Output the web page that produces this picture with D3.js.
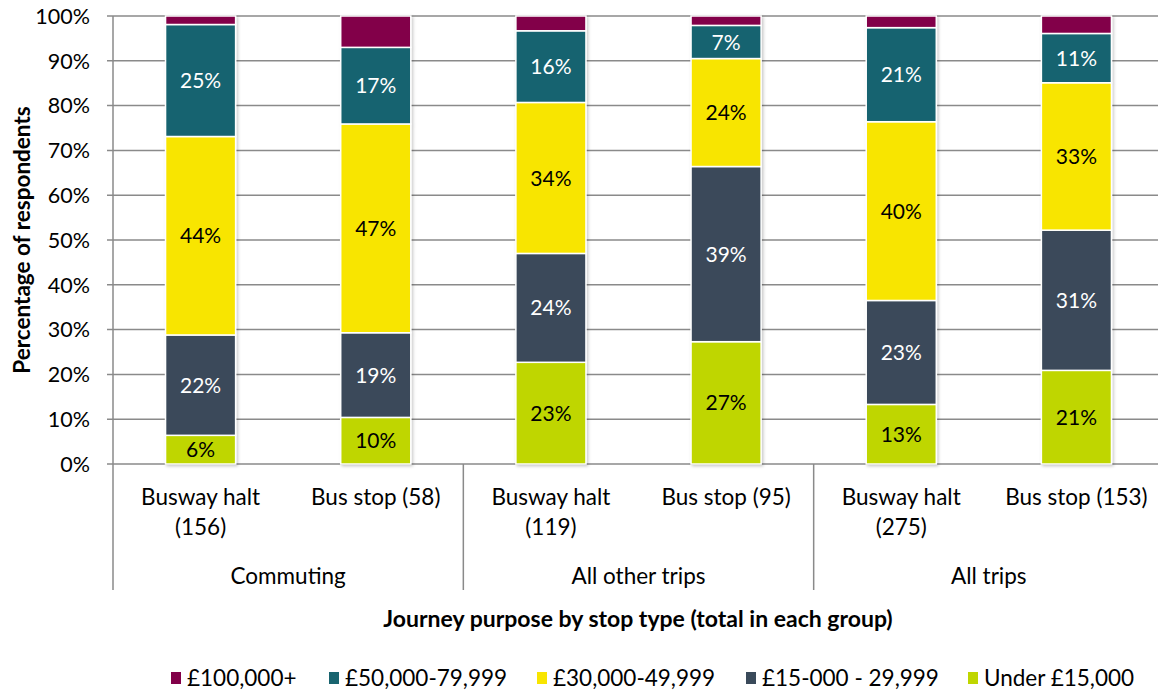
<!DOCTYPE html>
<html>
<head>
<meta charset="utf-8">
<script src="https://cdn.jsdelivr.net/npm/d3@7"></script>
<style>
  html, body { margin: 0; padding: 0; background: #ffffff; }
  svg { display: block; font-family: Lato, "Open Sans", sans-serif; }
</style>
</head>
<body>
<svg id="chart" width="1158" height="692"></svg>
<script>
// Income band shares (%) for each journey purpose / stop type
const barLabels = [
  ["Busway halt", "(156)"], ["Bus stop (58)"],
  ["Busway halt", "(119)"], ["Bus stop (95)"],
  ["Busway halt", "(275)"], ["Bus stop (153)"]
];
const groups = ["Commuting", "All other trips", "All trips"];
const seriesNames = ["Under £15,000", "£15-000 - 29,999", "£30,000-49,999", "£50,000-79,999", "£100,000+"];
const under15k   = [6.4, 10.4, 22.7, 27.3, 13.3, 20.9];
const from15k    = [22.4, 18.9, 24.3, 39.1, 23.2, 31.3];
const from30k    = [44.3, 46.6, 33.7, 24.1, 39.9, 32.9];
const from50k    = [25.0, 17.1, 16.0, 7.4, 21.0, 11.0];
const over100k   = [1.9, 7.0, 3.3, 2.1, 2.6, 3.9];
const yTicks = [0, 10, 20, 30, 40, 50, 60, 70, 80, 90, 100];
const legendOrder = ["£100,000+", "£50,000-79,999", "£30,000-49,999", "£15-000 - 29,999", "Under £15,000"];

const colors = {
  "Under £15,000": "#bfd600",
  "£15-000 - 29,999": "#3a4a5a",
  "£30,000-49,999": "#f8e500",
  "£50,000-79,999": "#19646f",
  "£100,000+": "#820049"
};
const labelColor = {
  "Under £15,000": "#000000",
  "£15-000 - 29,999": "#ffffff",
  "£30,000-49,999": "#000000",
  "£50,000-79,999": "#ffffff",
  "£100,000+": null
};

const valuesBySeries = [under15k, from15k, from30k, from50k, over100k];
const rows = barLabels.map((_, i) => {
  const r = { idx: i };
  seriesNames.forEach((s, k) => { r[s] = valuesBySeries[k][i]; });
  return r;
});

const svg = d3.select("#chart");
const defs = svg.append("defs");
const f = defs.append("filter").attr("id", "shadow")
  .attr("x", "-20%").attr("y", "-5%").attr("width", "140%").attr("height", "110%");
f.append("feDropShadow").attr("dx", 1.5).attr("dy", 1.5).attr("stdDeviation", 1.5)
  .attr("flood-color", "#000").attr("flood-opacity", 0.22);

const plotLeft = 113, plotRight = 1164, plotTop = 16, plotBottom = 464;
const axisColor = "#8a8a8a";

const x = d3.scaleBand().domain(d3.range(barLabels.length)).range([plotLeft, plotRight])
  .paddingInner(0.6).paddingOuter(0.3);
const y = d3.scaleLinear().domain([0, 100]).range([plotBottom, plotTop]);

// Horizontal gridlines with outward ticks
svg.append("g").selectAll("line").data(yTicks).join("line")
  .attr("x1", plotLeft - 6).attr("x2", plotRight)
  .attr("y1", d => y(d)).attr("y2", d => y(d))
  .attr("stroke", axisColor).attr("stroke-width", 1.5);

// Y tick labels
svg.append("g").selectAll("text").data(yTicks).join("text")
  .attr("x", 90).attr("y", d => y(d)).attr("dy", "0.36em")
  .attr("text-anchor", "end").attr("font-size", 21.5).attr("fill", "#000")
  .text(d => d + "%");

// Y axis line and group separators below the axis
const step = x.step();
svg.append("line").attr("x1", plotLeft).attr("x2", plotLeft).attr("y1", plotTop).attr("y2", 590)
  .attr("stroke", axisColor).attr("stroke-width", 1.5);
groups.forEach((g, gi) => {
  const xr = plotLeft + step * 2 * (gi + 1);
  svg.append("line").attr("x1", xr).attr("x2", xr).attr("y1", plotBottom).attr("y2", 590)
    .attr("stroke", axisColor).attr("stroke-width", 1.5);
});

// Stacked bars
const stacked = d3.stack().keys(seriesNames)(rows);
const bars = svg.append("g").selectAll("g.bar").data(rows).join("g")
  .attr("class", "bar").attr("filter", "url(#shadow)");
bars.each(function(row, i) {
  const g = d3.select(this);
  stacked.forEach(layer => {
    const seg = layer[i];
    g.append("rect")
      .attr("x", x(i)).attr("width", x.bandwidth())
      .attr("y", y(seg[1])).attr("height", y(seg[0]) - y(seg[1]))
      .attr("fill", colors[layer.key])
      .attr("stroke", "#ffffff").attr("stroke-width", 1.5);
  });
});

// Segment value labels
const labelG = svg.append("g");
stacked.forEach(layer => {
  if (!labelColor[layer.key]) return;
  layer.forEach((seg, i) => {
    labelG.append("text")
      .attr("x", x(i) + x.bandwidth() / 2)
      .attr("y", (y(seg[0]) + y(seg[1])) / 2).attr("dy", "0.36em")
      .attr("text-anchor", "middle").attr("font-size", 21)
      .attr("fill", labelColor[layer.key])
      .text(Math.round(seg[1] - seg[0]) + "%");
  });
});

// Category labels
barLabels.forEach((lines, i) => {
  const t = svg.append("text").attr("text-anchor", "middle").attr("font-size", 22.5).attr("fill", "#000");
  lines.forEach((ln, k) => {
    t.append("tspan").attr("x", x(i) + x.bandwidth() / 2).attr("y", 497 + k * 30).attr("dy", "0.36em").text(ln);
  });
});
groups.forEach((g, gi) => {
  svg.append("text").attr("x", plotLeft + step * (2 * gi + 1)).attr("y", 576).attr("dy", "0.36em")
    .attr("text-anchor", "middle").attr("font-size", 22.5).attr("fill", "#000").text(g);
});

// Axis titles
svg.append("text").attr("x", 638).attr("y", 619).attr("dy", "0.36em")
  .attr("text-anchor", "middle").attr("font-size", 23).attr("font-weight", "bold").attr("fill", "#000")
  .text("Journey purpose by stop type (total in each group)");
svg.append("text").attr("transform", `translate(22,${(plotTop + plotBottom) / 2}) rotate(-90)`)
  .attr("dy", "0.36em").attr("text-anchor", "middle").attr("font-size", 22.5).attr("font-weight", "bold")
  .attr("fill", "#000").text("Percentage of respondents");

// Legend
const legendX = [171, 329, 537, 746, 968];
const legend = svg.append("g");
legendOrder.forEach((name, i) => {
  const gx = legendX[i];
  legend.append("rect").attr("x", gx).attr("y", 672).attr("width", 10).attr("height", 12)
    .attr("fill", colors[name]);
  legend.append("text").attr("x", gx + 16).attr("y", 678).attr("dy", "0.36em")
    .attr("font-size", 22.5).attr("fill", "#000").text(name);
});
</script>
</body>
</html>
